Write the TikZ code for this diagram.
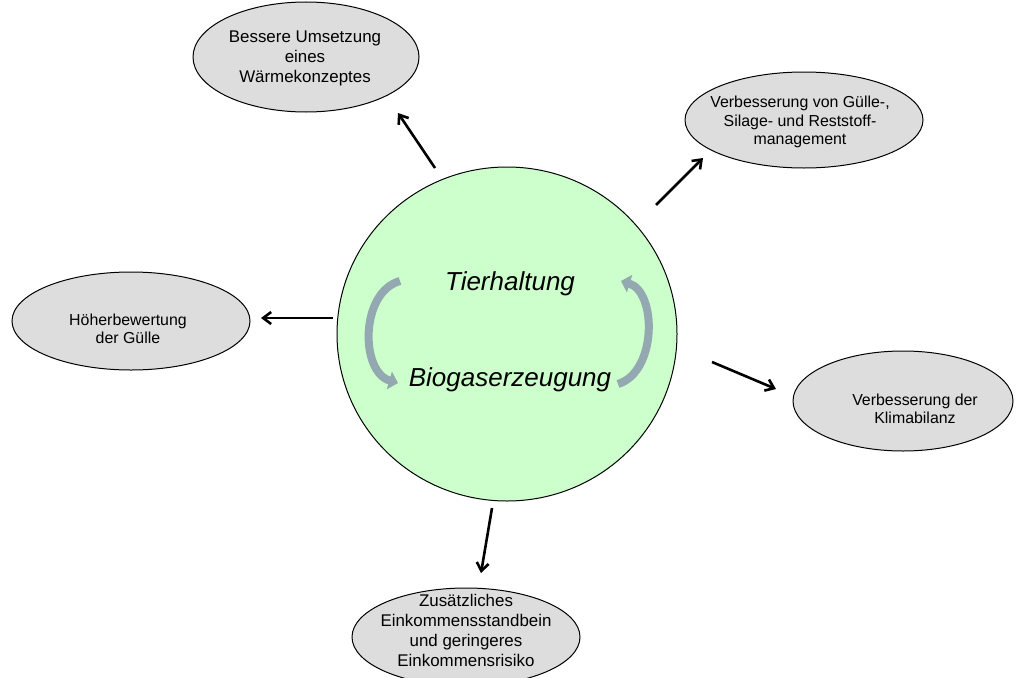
\documentclass[tikz,border=0pt]{standalone}
\usepackage{fontspec}
\setmainfont{Liberation Sans}
\usetikzlibrary{shapes.geometric,arrows.meta}
\definecolor{bubblefill}{HTML}{DDDDDD}
\definecolor{hubfill}{HTML}{CCFFCC}
\definecolor{cyclearrow}{HTML}{93A8B1}
\begin{document}
\begin{tikzpicture}[x=1pt,y=-1pt,
  bubble/.style={ellipse, draw=black, line width=1pt, fill=bubblefill, inner sep=0pt},
  bubbletext/.style={align=center, font=\fontsize{15.9}{18.3}\selectfont, inner sep=0pt},
  bigbubbletext/.style={align=center, font=\fontsize{16.9}{20}\selectfont, inner sep=0pt},
  hub/.style={ellipse, draw=black, line width=1pt, fill=hubfill, minimum width=340pt, minimum height=334pt, inner sep=0pt},
  hubtext/.style={font=\fontsize{26}{30}\selectfont\itshape, inner sep=0pt},
  conn/.style={line width=2.6pt, -{Straight Barb[length=8pt,width=12pt]}},
  cyclearr/.style={line width=8pt, draw=cyclearrow, -{Triangle[length=9pt,width=18pt]}}
]
\useasboundingbox (0,0) rectangle (1016,677);

% hub
\node[hub] (hub) at (507,334) {};
\node[hubtext] (th) at (510,284) {Tierhaltung};
\node[hubtext] (bg) at (510,380) {Biogaserzeugung};
\draw[cyclearr] (400,281) .. controls (360,292) and (360,372) .. (398,383);
\draw[cyclearr] (618,384) .. controls (657,372) and (657,292) .. (621,281);

% bubbles
\node[bubble, minimum width=226pt, minimum height=110pt] (e1) at (306,57) {};
\node[bigbubbletext] (t1) at (305,58) {Bessere Umsetzung\\eines\\Wärmekonzeptes};

\node[bubble, minimum width=238pt, minimum height=96pt] (e2) at (804,120) {};
\node[bubbletext] (t2) at (800,122) {Verbesserung von Gülle-,\\Silage- und Reststoff-\\management};

\node[bubble, minimum width=238pt, minimum height=98pt] (e3) at (131,321) {};
\node[bubbletext] (t3) at (128,329) {Höherbewertung\\der Gülle};

\node[bubble, minimum width=220pt, minimum height=100pt] (e4) at (903,401) {};
\node[bubbletext] (t4) at (915,409) {Verbesserung der\\Klimabilanz};

\node[bubble, minimum width=228pt, minimum height=98pt] (e5) at (466,637) {};
\node[bigbubbletext] (t5) at (466,630) {Zusätzliches\\Einkommensstandbein\\und geringeres\\Einkommensrisiko};

% connector end points
\coordinate (a1s) at (435,168);
\coordinate (a1e) at (398,113);
\coordinate (a2s) at (656,205);
\coordinate (a2e) at (703,158);
\coordinate (a3s) at (333,318);
\coordinate (a3e) at (261,318);
\coordinate (a4s) at (712,362);
\coordinate (a4e) at (776,389);
\coordinate (a5s) at (492,508);
\coordinate (a5e) at (481,573);

\draw[conn] (a1s) -- (a1e);
\draw[conn] (a2s) -- (a2e);
\draw[conn] (a3s) -- (a3e);
\draw[conn] (a4s) -- (a4e);
\draw[conn] (a5s) -- (a5e);
\end{tikzpicture}
\end{document}
